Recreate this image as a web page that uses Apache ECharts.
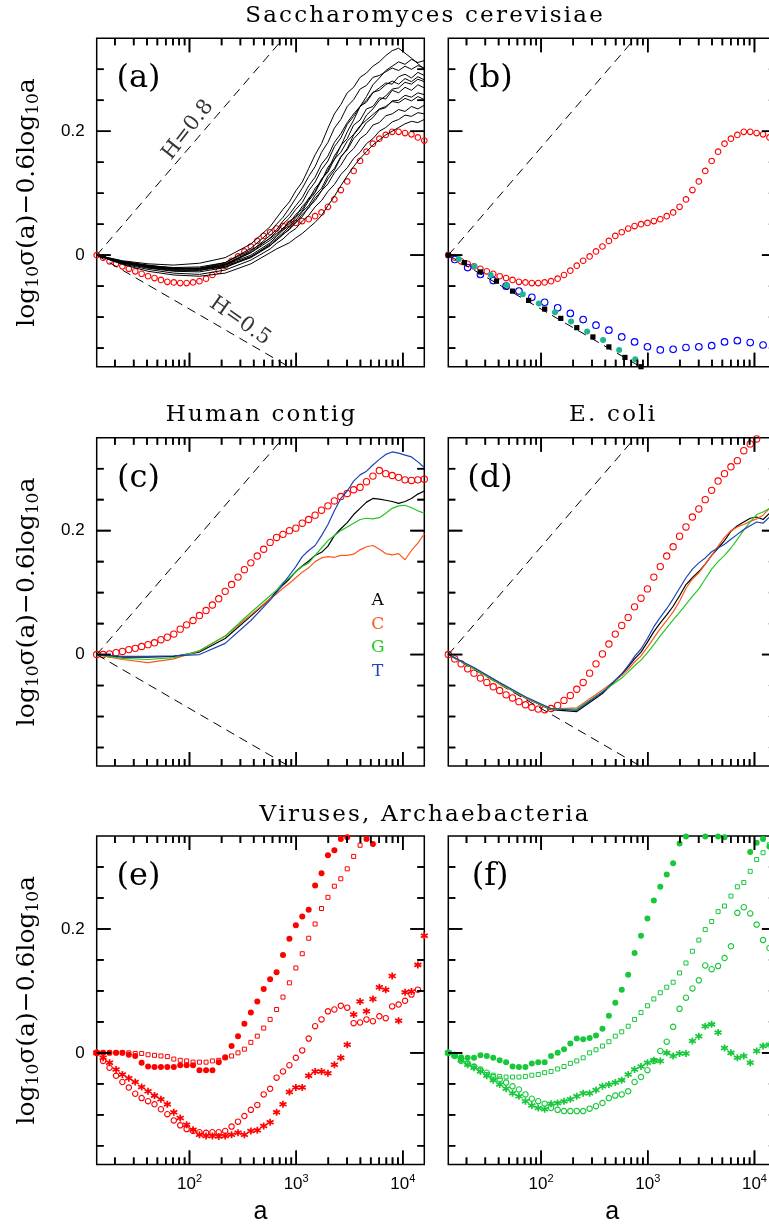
<!DOCTYPE html>
<html>
<head>
<meta charset="utf-8">
<title>log10 sigma(a) - 0.6 log10 a</title>
<script src="https://cdn.jsdelivr.net/npm/echarts@6/dist/echarts.min.js"></script>
<style>
  html, body { margin: 0; padding: 0; background: #fff; }
  #chart { width: 769px; height: 1226px; }
</style>
</head>
<body>
<div id="chart"></div>
<script>
// ---------- axes ----------
const X_MIN = 13.5, X_MAX = 15880;
const Y_MIN = -0.18, Y_MAX = 0.35;
const X_MAJOR = [100, 1000, 10000];
const X_MINOR = [20, 30, 40, 50, 60, 70, 80, 90, 200, 300, 400, 500, 600, 700, 800, 900,
  2000, 3000, 4000, 5000, 6000, 7000, 8000, 9000];
const Y_MAJOR = [0, 0.2];
const Y_MINOR = [-0.15, -0.1, -0.05, 0.05, 0.1, 0.15, 0.25, 0.3];

// ---------- sampling positions (window size a) ----------
const A_GRID = [13.5, 15.5, 17.8, 20.5, 23.5, 27.0, 31.0, 35.6, 40.9, 47.0, 54.0, 62.0, 71.3, 81.9,
  94.0, 108, 124, 143, 164, 188, 216, 248, 285, 327, 376, 432, 496, 570, 655, 752, 864, 993, 1140,
  1310, 1505, 1728, 1985, 2281, 2620, 3010, 3456, 3970, 4561, 5240, 6019, 6912, 7940, 9122, 10480,
  12038, 13824, 15880];
const A_LINE = [13.5, 23.5, 40.9, 71.3, 124, 216, 376, 570, 655, 752, 864, 993, 1140, 1310, 1505,
  1728, 1985, 2281, 2620, 3010, 3456, 3970, 4561, 5240, 6019, 6912, 7940, 9122, 10480, 12038,
  13824, 15880];

// reference slopes H=0.8 and H=0.5
const REF_A = [13.5, 1350];
const H08_Y = [0, 0.4];
const H05_Y = [0, -0.2];
const H08_LABEL = [96.8, 0.202];
const H05_LABEL = [297, -0.1065];

// ---------- (a),(b) Saccharomyces cerevisiae ----------
const SC_RED = [0, -0.004, -0.010, -0.014, -0.018, -0.022, -0.026, -0.030, -0.034, -0.037, -0.040,
  -0.043, -0.044, -0.045, -0.045, -0.044, -0.042, -0.038, -0.032, -0.025, -0.017, -0.009, -0.002,
  0.006, 0.014, 0.023, 0.031, 0.037, 0.043, 0.047, 0.050, 0.052, 0.055, 0.058, 0.063, 0.069, 0.078,
  0.090, 0.105, 0.119, 0.136, 0.152, 0.167, 0.180, 0.188, 0.194, 0.199, 0.199, 0.197, 0.195, 0.190,
  0.185];
// one curve per chromosome, sampled at A_LINE
const SC_CHROM = [
  [0, -0.009, -0.014, -0.016, -0.013, -0.004, 0.018, 0.046, 0.060, 0.074, 0.086, 0.104, 0.118, 0.140, 0.162, 0.180, 0.205, 0.228, 0.243, 0.262, 0.271, 0.287, 0.294, 0.305, 0.312, 0.322, 0.330, 0.334, 0.326, 0.318, 0.309, 0.300],
  [0, -0.011, -0.017, -0.020, -0.019, -0.012, 0.011, 0.038, 0.050, 0.061, 0.076, 0.092, 0.108, 0.127, 0.143, 0.166, 0.182, 0.205, 0.219, 0.240, 0.251, 0.268, 0.274, 0.287, 0.290, 0.296, 0.302, 0.298, 0.305, 0.300, 0.306, 0.302],
  [0, -0.012, -0.019, -0.023, -0.022, -0.015, 0.006, 0.032, 0.041, 0.055, 0.066, 0.080, 0.093, 0.112, 0.126, 0.147, 0.160, 0.182, 0.196, 0.214, 0.228, 0.240, 0.250, 0.263, 0.266, 0.275, 0.281, 0.276, 0.285, 0.280, 0.288, 0.283],
  [0, -0.010, -0.016, -0.021, -0.021, -0.014, 0.004, 0.028, 0.038, 0.050, 0.060, 0.074, 0.085, 0.104, 0.118, 0.138, 0.152, 0.175, 0.189, 0.211, 0.224, 0.240, 0.247, 0.262, 0.270, 0.278, 0.276, 0.288, 0.292, 0.286, 0.295, 0.290],
  [0, -0.011, -0.018, -0.022, -0.021, -0.012, 0.008, 0.027, 0.035, 0.041, 0.055, 0.062, 0.079, 0.089, 0.108, 0.120, 0.142, 0.154, 0.177, 0.188, 0.210, 0.218, 0.236, 0.240, 0.254, 0.252, 0.266, 0.262, 0.271, 0.266, 0.275, 0.270],
  [0, -0.012, -0.020, -0.025, -0.025, -0.016, 0.004, 0.024, 0.032, 0.044, 0.051, 0.066, 0.074, 0.092, 0.103, 0.123, 0.134, 0.155, 0.166, 0.184, 0.195, 0.209, 0.218, 0.227, 0.236, 0.240, 0.248, 0.246, 0.253, 0.249, 0.256, 0.251],
  [0, -0.010, -0.017, -0.021, -0.022, -0.016, 0.000, 0.020, 0.030, 0.040, 0.048, 0.061, 0.071, 0.088, 0.101, 0.121, 0.137, 0.160, 0.176, 0.199, 0.218, 0.240, 0.256, 0.275, 0.286, 0.298, 0.305, 0.312, 0.308, 0.316, 0.311, 0.314],
  [0, -0.013, -0.021, -0.026, -0.027, -0.020, -0.003, 0.018, 0.027, 0.036, 0.046, 0.056, 0.070, 0.080, 0.097, 0.108, 0.128, 0.140, 0.159, 0.170, 0.188, 0.199, 0.214, 0.222, 0.235, 0.238, 0.249, 0.250, 0.258, 0.255, 0.262, 0.259],
  [0, -0.012, -0.019, -0.024, -0.024, -0.019, -0.004, 0.015, 0.025, 0.034, 0.041, 0.054, 0.062, 0.078, 0.088, 0.104, 0.115, 0.133, 0.145, 0.162, 0.172, 0.188, 0.196, 0.210, 0.214, 0.225, 0.228, 0.235, 0.232, 0.240, 0.236, 0.242],
  [0, -0.011, -0.018, -0.022, -0.023, -0.018, -0.002, 0.016, 0.024, 0.033, 0.043, 0.052, 0.066, 0.076, 0.092, 0.104, 0.123, 0.137, 0.158, 0.172, 0.194, 0.207, 0.226, 0.236, 0.250, 0.257, 0.268, 0.270, 0.279, 0.276, 0.284, 0.280],
  [0, -0.014, -0.023, -0.029, -0.031, -0.024, -0.008, 0.010, 0.019, 0.026, 0.036, 0.043, 0.055, 0.064, 0.078, 0.088, 0.103, 0.114, 0.130, 0.141, 0.156, 0.166, 0.180, 0.188, 0.200, 0.206, 0.215, 0.219, 0.226, 0.224, 0.230, 0.228],
  [0, -0.015, -0.026, -0.032, -0.034, -0.029, -0.014, 0.004, 0.010, 0.015, 0.020, 0.028, 0.035, 0.044, 0.053, 0.064, 0.080, 0.095, 0.112, 0.128, 0.143, 0.156, 0.167, 0.178, 0.186, 0.194, 0.200, 0.206, 0.212, 0.216, 0.214, 0.219]
];
const B_BLUE_A = [15.5, 20.5, 27.0, 35.6, 47.0, 62.0, 81.9, 108, 143, 188, 248, 327, 432, 570, 752,
  993, 1310, 1728, 2281, 3010, 3970, 5240, 6912, 9122, 12038, 15880];
const B_BLUE = [-0.007, -0.020, -0.031, -0.041, -0.050, -0.058, -0.068, -0.076, -0.085, -0.094,
  -0.104, -0.113, -0.121, -0.132, -0.140, -0.148, -0.153, -0.152, -0.149, -0.148, -0.146, -0.140,
  -0.138, -0.141, -0.145, -0.146];
const B_SQ_A = [13.5, 19.1, 27.0, 38.2, 54.0, 76.4, 108, 153, 216, 306, 432, 611, 864];
const B_SQ = [0, -0.012, -0.027, -0.042, -0.058, -0.073, -0.087, -0.102, -0.117, -0.132, -0.148,
  -0.165, -0.180];
const B_TEAL_A = [16.9, 23.8, 33.7, 47.7, 67.4, 95.3, 135, 191, 270, 381, 539, 763];
const B_TEAL = [-0.006, -0.018, -0.032, -0.048, -0.063, -0.078, -0.092, -0.107, -0.123, -0.137,
  -0.153, -0.168];

// ---------- (c) Human contig ----------
const HU_RED = [0, 0.000, 0.001, 0.003, 0.005, 0.008, 0.010, 0.013, 0.016, 0.019, 0.024, 0.028,
  0.033, 0.041, 0.048, 0.055, 0.063, 0.071, 0.080, 0.090, 0.102, 0.113, 0.125, 0.137, 0.148, 0.159,
  0.170, 0.181, 0.189, 0.194, 0.200, 0.204, 0.212, 0.218, 0.225, 0.233, 0.240, 0.248, 0.255, 0.260,
  0.266, 0.270, 0.279, 0.288, 0.297, 0.292, 0.289, 0.286, 0.282, 0.281, 0.282, 0.283];
const HU_A = [0, -0.004, -0.004, -0.003, 0.004, 0.026, 0.062, 0.090, 0.102, 0.112, 0.122, 0.134,
  0.143, 0.151, 0.160, 0.165, 0.175, 0.192, 0.203, 0.213, 0.226, 0.236, 0.246, 0.252, 0.251, 0.249,
  0.247, 0.244, 0.247, 0.252, 0.259, 0.264];
const HU_C = [0, -0.008, -0.013, -0.007, 0.006, 0.030, 0.064, 0.090, 0.098, 0.107, 0.115, 0.124,
  0.133, 0.140, 0.150, 0.156, 0.158, 0.157, 0.160, 0.160, 0.162, 0.169, 0.174, 0.176, 0.170, 0.163,
  0.161, 0.163, 0.153, 0.168, 0.180, 0.195];
const HU_G = [0, -0.006, -0.008, -0.005, 0.006, 0.030, 0.068, 0.095, 0.104, 0.116, 0.124, 0.134,
  0.142, 0.148, 0.160, 0.172, 0.184, 0.192, 0.200, 0.206, 0.212, 0.218, 0.220, 0.219, 0.221, 0.228,
  0.236, 0.240, 0.241, 0.237, 0.232, 0.228];
const HU_T = [0, -0.003, -0.003, -0.002, 0.000, 0.018, 0.055, 0.088, 0.100, 0.114, 0.128, 0.142,
  0.158, 0.168, 0.176, 0.192, 0.210, 0.232, 0.252, 0.264, 0.280, 0.290, 0.296, 0.306, 0.315, 0.323,
  0.327, 0.325, 0.322, 0.319, 0.311, 0.302];

// ---------- (d) E. coli ----------
const EC_RED = [0, -0.007, -0.015, -0.023, -0.030, -0.038, -0.045, -0.052, -0.058, -0.065, -0.070,
  -0.076, -0.081, -0.085, -0.088, -0.089, -0.087, -0.082, -0.074, -0.066, -0.056, -0.045, -0.030,
  -0.015, 0.001, 0.017, 0.033, 0.047, 0.060, 0.077, 0.091, 0.106, 0.125, 0.142, 0.159, 0.174, 0.191,
  0.206, 0.222, 0.235, 0.250, 0.265, 0.280, 0.292, 0.303, 0.313, 0.329, 0.340, 0.348, 0.358];
const EC_A = [0, -0.022, -0.046, -0.070, -0.089, -0.092, -0.063, -0.032, -0.020, -0.007, 0.004,
  0.020, 0.037, 0.051, 0.064, 0.078, 0.095, 0.113, 0.124, 0.134, 0.146, 0.160, 0.172, 0.184, 0.199,
  0.208, 0.214, 0.220, 0.222, 0.218, 0.228, 0.232];
const EC_C = [0, -0.023, -0.048, -0.070, -0.088, -0.086, -0.057, -0.034, -0.024, -0.012, -0.002,
  0.012, 0.027, 0.042, 0.055, 0.069, 0.086, 0.107, 0.122, 0.132, 0.146, 0.160, 0.175, 0.189, 0.200,
  0.206, 0.210, 0.215, 0.219, 0.225, 0.236, 0.244];
const EC_G = [0, -0.023, -0.047, -0.069, -0.088, -0.088, -0.060, -0.038, -0.028, -0.018, -0.009,
  0.003, 0.016, 0.030, 0.043, 0.056, 0.068, 0.081, 0.094, 0.106, 0.122, 0.138, 0.150, 0.160, 0.172,
  0.186, 0.201, 0.214, 0.226, 0.230, 0.236, 0.242];
const EC_T = [0, -0.021, -0.045, -0.068, -0.087, -0.090, -0.061, -0.031, -0.018, -0.003, 0.009,
  0.026, 0.045, 0.060, 0.074, 0.090, 0.107, 0.124, 0.138, 0.148, 0.156, 0.166, 0.172, 0.178, 0.186,
  0.194, 0.202, 0.208, 0.214, 0.212, 0.222, 0.230];

// ---------- (e) viruses ----------
const VI_FILLED = [0, 0, 0, 0, 0, -0.003, -0.005, -0.016, -0.022, -0.023, -0.023, -0.023, -0.023,
  -0.020, -0.020, -0.020, -0.028, -0.028, -0.028, -0.015, -0.007, 0.011, 0.027, 0.047, 0.065, 0.083,
  0.103, 0.119, 0.130, 0.158, 0.184, 0.206, 0.220, 0.231, 0.270, 0.290, 0.319, 0.327, 0.345, 0.348,
  0.362, 0.365, 0.345, 0.337];
const VI_SQUARE = [0, 0, 0, 0, 0, 0, -0.001, -0.001, -0.003, -0.004, -0.005, -0.006, -0.010, -0.012,
  -0.013, -0.015, -0.015, -0.015, -0.013, -0.012, -0.008, -0.005, 0.000, 0.006, 0.017, 0.027, 0.040,
  0.054, 0.070, 0.090, 0.113, 0.137, 0.160, 0.185, 0.208, 0.233, 0.251, 0.269, 0.281, 0.297, 0.317,
  0.335, 0.352];
const VI_OPEN = [0, -0.013, -0.024, -0.037, -0.047, -0.056, -0.066, -0.073, -0.078, -0.083, -0.091,
  -0.099, -0.109, -0.117, -0.123, -0.126, -0.128, -0.129, -0.128, -0.128, -0.126, -0.119, -0.111,
  -0.102, -0.092, -0.084, -0.067, -0.058, -0.040, -0.030, -0.020, -0.008, 0.004, 0.023, 0.043, 0.054,
  0.067, 0.070, 0.076, 0.073, 0.048, 0.049, 0.054, 0.051, 0.059, 0.056, 0.075, 0.078, 0.084, 0.094,
  0.102];
const VI_STAR = [0, -0.008, -0.016, -0.027, -0.035, -0.041, -0.047, -0.055, -0.062, -0.069, -0.075,
  -0.083, -0.096, -0.105, -0.116, -0.124, -0.132, -0.134, -0.134, -0.135, -0.134, -0.132, -0.129,
  -0.132, -0.126, -0.125, -0.118, -0.112, -0.096, -0.083, -0.063, -0.056, -0.056, -0.037, -0.030,
  -0.030, -0.033, -0.019, -0.008, 0.013, 0.062, 0.083, 0.067, 0.087, 0.106, 0.102, 0.124, 0.052,
  0.098, 0.099, 0.142, 0.189];

// ---------- (f) archaebacteria ----------
const AR_FILLED = [0, -0.004, -0.007, -0.008, -0.008, -0.004, -0.005, -0.008, -0.012, -0.015,
  -0.022, -0.023, -0.023, -0.017, -0.015, -0.015, -0.005, 0.000, 0.006, 0.015, 0.023, 0.022, 0.024,
  0.028, 0.039, 0.060, 0.081, 0.102, 0.126, 0.161, 0.189, 0.217, 0.246, 0.268, 0.288, 0.306, 0.338,
  0.349, 0.353, 0.360, 0.349, 0.360, 0.349, 0.348, 0.370, 0.370, 0.360, 0.324, 0.339, 0.345, 0.333];
const AR_SQUARE = [0, -0.005, -0.011, -0.017, -0.022, -0.028, -0.035, -0.036, -0.038, -0.039,
  -0.039, -0.039, -0.038, -0.036, -0.035, -0.032, -0.030, -0.026, -0.022, -0.017, -0.013, -0.008,
  0.000, 0.005, 0.011, 0.018, 0.027, 0.034, 0.043, 0.054, 0.065, 0.076, 0.087, 0.097, 0.106, 0.114,
  0.129, 0.145, 0.164, 0.182, 0.199, 0.212, 0.228, 0.237, 0.253, 0.268, 0.275, 0.293, 0.312, 0.323,
  0.336];
const AR_OPEN = [0, -0.005, -0.013, -0.017, -0.022, -0.027, -0.032, -0.039, -0.043, -0.048, -0.054,
  -0.059, -0.067, -0.074, -0.078, -0.082, -0.089, -0.092, -0.094, -0.094, -0.094, -0.094, -0.090,
  -0.086, -0.081, -0.073, -0.069, -0.067, -0.062, -0.047, -0.039, -0.028, -0.013, 0.003, 0.018,
  0.042, 0.071, 0.089, 0.104, 0.117, 0.141, 0.135, 0.140, 0.153, 0.172, 0.226, 0.235, 0.225, 0.207,
  0.182, 0.169];
const AR_STAR = [0, -0.004, -0.012, -0.019, -0.024, -0.030, -0.037, -0.044, -0.051, -0.058, -0.065,
  -0.070, -0.078, -0.085, -0.089, -0.091, -0.082, -0.081, -0.078, -0.075, -0.070, -0.065, -0.065,
  -0.060, -0.054, -0.051, -0.048, -0.044, -0.035, -0.027, -0.022, -0.016, -0.012, -0.013, 0.000,
  -0.005, -0.001, -0.001, 0.019, 0.027, 0.043, 0.046, 0.033, 0.008, 0.000, -0.008, -0.005, -0.016,
  0.003, 0.011, 0.013];

// ---------- texts ----------
const PANEL_TAGS = ['(a)', '(b)', '(c)', '(d)', '(e)', '(f)'];
const NUC_LABELS = ['A', 'C', 'G', 'T'];

// ---------- styling ----------
const INK = '#000';
const RED = '#ff0000';
const BLUE = '#0000ff';
const TEAL = '#1fb592';
const LEAF = '#16c83a';
const NUC_COLORS = ['#000000', '#ff561c', '#22c822', '#1c44b8'];
const SERIF = 'DejaVu Serif';
const SANS = 'Liberation Sans';
const STAR_PATH = 'path://M0,-10L0,10M-8.66,-5L8.66,5M-8.66,5L8.66,-5';
const MAJOR_LEN = 14, MINOR_LEN = 7;
const TICK_W = 1.6;

const COL_LEFT = [96.7, 448.3];
const ROW_TOP = [38.3, 437.7, 836.0];
const PANEL_W = 327.6, PANEL_H = 328.4;

const chart = echarts.init(document.getElementById('chart'));

const pts = (xs, ys) => ys.map((y, j) => [xs[j], y]);

const grids = [], xAxes = [], yAxes = [];
for (let i = 0; i < 6; i++) {
  const row = Math.floor(i / 2), col = i % 2;
  grids.push({
    left: COL_LEFT[col], top: ROW_TOP[row], width: PANEL_W, height: PANEL_H,
    containLabel: false, outerBoundsMode: 'none',
    show: true, borderColor: INK, borderWidth: 1.5, backgroundColor: 'rgba(0,0,0,0)'
  });
  xAxes.push({
    gridIndex: i, type: 'log', logBase: 10, min: X_MIN, max: X_MAX, position: 'bottom',
    axisLine: { show: false, onZero: false }, axisTick: { show: false },
    splitLine: { show: false }, minorTick: { show: false },
    axisLabel: row === 2 ? {
      show: true, customValues: X_MAJOR, margin: 9, color: INK,
      formatter: v => '{b|10}{p|' + Math.round(Math.log10(v)) + '}',
      rich: {
        b: { fontFamily: SANS, fontSize: 17, lineHeight: 22, color: INK },
        p: { fontFamily: SANS, fontSize: 11, verticalAlign: 'top', color: INK }
      }
    } : { show: false }
  });
  yAxes.push({
    gridIndex: i, type: 'value', min: Y_MIN, max: Y_MAX, position: 'left',
    axisLine: { show: false, onZero: false }, axisTick: { show: false },
    splitLine: { show: false }, minorTick: { show: false },
    axisLabel: col === 0 ? {
      show: true, customValues: Y_MAJOR, margin: 12, color: INK,
      fontFamily: SANS, fontSize: 17, formatter: v => String(v)
    } : { show: false }
  });
}

// ---------- series ----------
const series = [];

function addLine(panel, xs, ys, color, width, dash) {
  series.push({
    type: 'line', xAxisIndex: panel, yAxisIndex: panel, data: pts(xs, ys),
    showSymbol: false, symbol: 'none', silent: true, animation: false,
    lineStyle: { color: color, width: width, type: dash || 'solid' }
  });
}
function addMarks(panel, xs, ys, look) {
  series.push(Object.assign({
    type: 'scatter', xAxisIndex: panel, yAxisIndex: panel, data: pts(xs, ys),
    silent: true, animation: false
  }, look));
}
const openCircle = (c, size) => ({ symbol: 'circle', symbolSize: size,
  itemStyle: { color: 'rgba(0,0,0,0)', borderColor: c, borderWidth: 1.1, opacity: 1 } });
const dot = (c, size) => ({ symbol: 'circle', symbolSize: size,
  itemStyle: { color: c, borderWidth: 0, opacity: 1 } });
const block = (c, size) => ({ symbol: 'rect', symbolSize: size,
  itemStyle: { color: c, borderWidth: 0, opacity: 1 } });
const openSquare = (c, size) => ({ symbol: 'rect', symbolSize: size,
  itemStyle: { color: 'rgba(0,0,0,0)', borderColor: c, borderWidth: 1, opacity: 1 } });
const star = (c, size) => ({ symbol: STAR_PATH, symbolSize: size,
  itemStyle: { color: 'rgba(0,0,0,0)', borderColor: c, borderWidth: 1.7, opacity: 1 } });

// tick marks as short segments in data space (pixel length converted with the panel scale)
const Y_PER_PX = (Y_MAX - Y_MIN) / PANEL_H;
const LOGX_PER_PX = Math.log10(X_MAX / X_MIN) / PANEL_W;
function tickSegments() {
  const segs = [];
  [[X_MAJOR, MAJOR_LEN], [X_MINOR, MINOR_LEN]].forEach(([vals, len]) => {
    const dy = len * Y_PER_PX;
    vals.forEach(v => {
      segs.push([v, Y_MIN], [v, Y_MIN + dy], [v, '-']);
      segs.push([v, Y_MAX], [v, Y_MAX - dy], [v, '-']);
    });
  });
  [[Y_MAJOR, MAJOR_LEN], [Y_MINOR, MINOR_LEN]].forEach(([vals, len]) => {
    const f = Math.pow(10, len * LOGX_PER_PX);
    vals.forEach(v => {
      segs.push([X_MIN, v], [X_MIN * f, v], [X_MIN, '-']);
      segs.push([X_MAX, v], [X_MAX / f, v], [X_MAX, '-']);
    });
  });
  return segs;
}
const TICK_SEGS = tickSegments();
for (let p = 0; p < 6; p++) {
  series.push({
    type: 'line', xAxisIndex: p, yAxisIndex: p, data: TICK_SEGS,
    showSymbol: false, symbol: 'none', connectNulls: false, clip: false,
    silent: true, animation: false, z: 6,
    lineStyle: { color: INK, width: TICK_W }
  });
}

const DASH = [9, 6];
// dashed H lines in (a)-(d)
for (let p = 0; p < 4; p++) {
  addLine(p, REF_A, H08_Y, INK, 1, DASH);
  addLine(p, REF_A, H05_Y, INK, 1, DASH);
}

// (a)
SC_CHROM.forEach(c => addLine(0, A_LINE, c, INK, 1));
addMarks(0, A_GRID, SC_RED, openCircle(RED, 5.6));
function slopeTag(pos, text, angle) {
  series.push({
    type: 'scatter', xAxisIndex: 0, yAxisIndex: 0, data: [pos], symbolSize: 1,
    itemStyle: { color: 'rgba(0,0,0,0)' }, silent: true, animation: false,
    label: { show: true, position: 'inside', formatter: text, rotate: angle,
      fontFamily: SERIF, fontSize: 21, color: INK }
  });
}
slopeTag(H08_LABEL, 'H=0.8', 52);
slopeTag(H05_LABEL, 'H=0.5', -35);

// (b)
addMarks(1, A_GRID, SC_RED, openCircle(RED, 5.6));
addMarks(1, B_BLUE_A, B_BLUE, openCircle(BLUE, 6.6));
addMarks(1, B_SQ_A, B_SQ, block(INK, 5.2));
addMarks(1, B_TEAL_A, B_TEAL, dot(TEAL, 6));

// (c)
addMarks(2, A_GRID, HU_RED, openCircle(RED, 6.3));
[HU_A, HU_C, HU_G, HU_T].forEach((ys, j) => addLine(2, A_LINE, ys, NUC_COLORS[j], 1.2));

// (d)
addMarks(3, A_GRID, EC_RED, openCircle(RED, 6.3));
[EC_A, EC_C, EC_G, EC_T].forEach((ys, j) => addLine(3, A_LINE, ys, NUC_COLORS[j], 1.2));

// (e)
addMarks(4, A_GRID, VI_FILLED, dot(RED, 6));
addMarks(4, A_GRID, VI_SQUARE, openSquare(RED, 4));
addMarks(4, A_GRID, VI_OPEN, openCircle(RED, 5.4));
addMarks(4, A_GRID, VI_STAR, star(RED, 7));

// (f)
addMarks(5, A_GRID, AR_FILLED, dot(LEAF, 6));
addMarks(5, A_GRID, AR_SQUARE, openSquare(LEAF, 4));
addMarks(5, A_GRID, AR_OPEN, openCircle(LEAF, 5.4));
addMarks(5, A_GRID, AR_STAR, star(LEAF, 7));

// ---------- free text ----------
const spaced = s => s.split('').map(ch => '{c|' + ch + '}').join('');
const titleRich = { c: { fontFamily: SERIF, fontSize: 23, padding: [0, 1.1], color: INK } };
function textEl(x, y, text, style, rotation) {
  return {
    type: 'text', x: x, y: y, rotation: rotation || 0, silent: true,
    style: Object.assign({ text: text, align: 'center', verticalAlign: 'middle',
      textAlign: 'center', textVerticalAlign: 'middle', fill: INK }, style)
  };
}
const graphics = [];
graphics.push(textEl(424, 16.5, spaced('Saccharomyces cerevisiae'), { rich: titleRich }));
graphics.push(textEl(COL_LEFT[0] + PANEL_W / 2, 415.5, spaced('Human contig'), { rich: titleRich }));
graphics.push(textEl(COL_LEFT[1] + PANEL_W / 2, 415.5, spaced('E. coli'), { rich: titleRich }));
graphics.push(textEl(424, 815, spaced('Viruses, Archaebacteria'), { rich: titleRich }));

PANEL_TAGS.forEach((t, i) => {
  const row = Math.floor(i / 2), col = i % 2;
  graphics.push(textEl(COL_LEFT[col] + 41.8, ROW_TOP[row] + 40.5, t,
    { fontFamily: SERIF, fontSize: 32 }));
});

const yName = '{m|log}{s|10}{m|σ(a)−0.6log}{s|10}{m|a}';
const yRich = {
  m: { fontFamily: SERIF, fontSize: 25, lineHeight: 31, color: INK },
  s: { fontFamily: SERIF, fontSize: 17, verticalAlign: 'bottom', color: INK }
};
ROW_TOP.forEach(top => {
  graphics.push(textEl(27, top + PANEL_H / 2, yName, { rich: yRich }, Math.PI / 2));
});
COL_LEFT.forEach(left => {
  graphics.push(textEl(left + PANEL_W / 2, 1212.5, 'a', { fontFamily: SANS, fontSize: 25 }));
});
NUC_LABELS.forEach((t, j) => {
  graphics.push(textEl(377.7, 601 + j * 23.5, t,
    { fontFamily: SERIF, fontSize: 17, fill: NUC_COLORS[j] }));
});

chart.setOption({
  animation: false,
  backgroundColor: '#fff',
  textStyle: { fontFamily: SANS, color: INK },
  grid: grids,
  xAxis: xAxes,
  yAxis: yAxes,
  series: series,
  graphic: { elements: graphics }
});

// same ticks again as overlay graphics, positioned through convertToPixel
function tickEl(x1, y1, x2, y2) {
  return { type: 'line', silent: true, z: 50,
    shape: { x1: x1, y1: y1, x2: x2, y2: y2 },
    style: { stroke: INK, lineWidth: TICK_W, fill: null } };
}
const tickEls = [];
for (let p = 0; p < 6; p++) {
  const finder = { xAxisIndex: p, yAxisIndex: p };
  const c0 = chart.convertToPixel(finder, [X_MIN, Y_MIN]);
  const c1 = chart.convertToPixel(finder, [X_MAX, Y_MAX]);
  if (!c0 || !c1) continue;
  const left = c0[0], bottom = c0[1], right = c1[0], top = c1[1];
  [[X_MAJOR, MAJOR_LEN], [X_MINOR, MINOR_LEN]].forEach(([vals, len]) => {
    vals.forEach(v => {
      const x = chart.convertToPixel(finder, [v, Y_MIN])[0];
      tickEls.push(tickEl(x, bottom, x, bottom - len), tickEl(x, top, x, top + len));
    });
  });
  [[Y_MAJOR, MAJOR_LEN], [Y_MINOR, MINOR_LEN]].forEach(([vals, len]) => {
    vals.forEach(v => {
      const y = chart.convertToPixel(finder, [X_MIN, v])[1];
      tickEls.push(tickEl(left, y, left + len, y), tickEl(right, y, right - len, y));
    });
  });
}
chart.setOption({ graphic: { elements: graphics.concat(tickEls) } });
</script>
</body>
</html>
